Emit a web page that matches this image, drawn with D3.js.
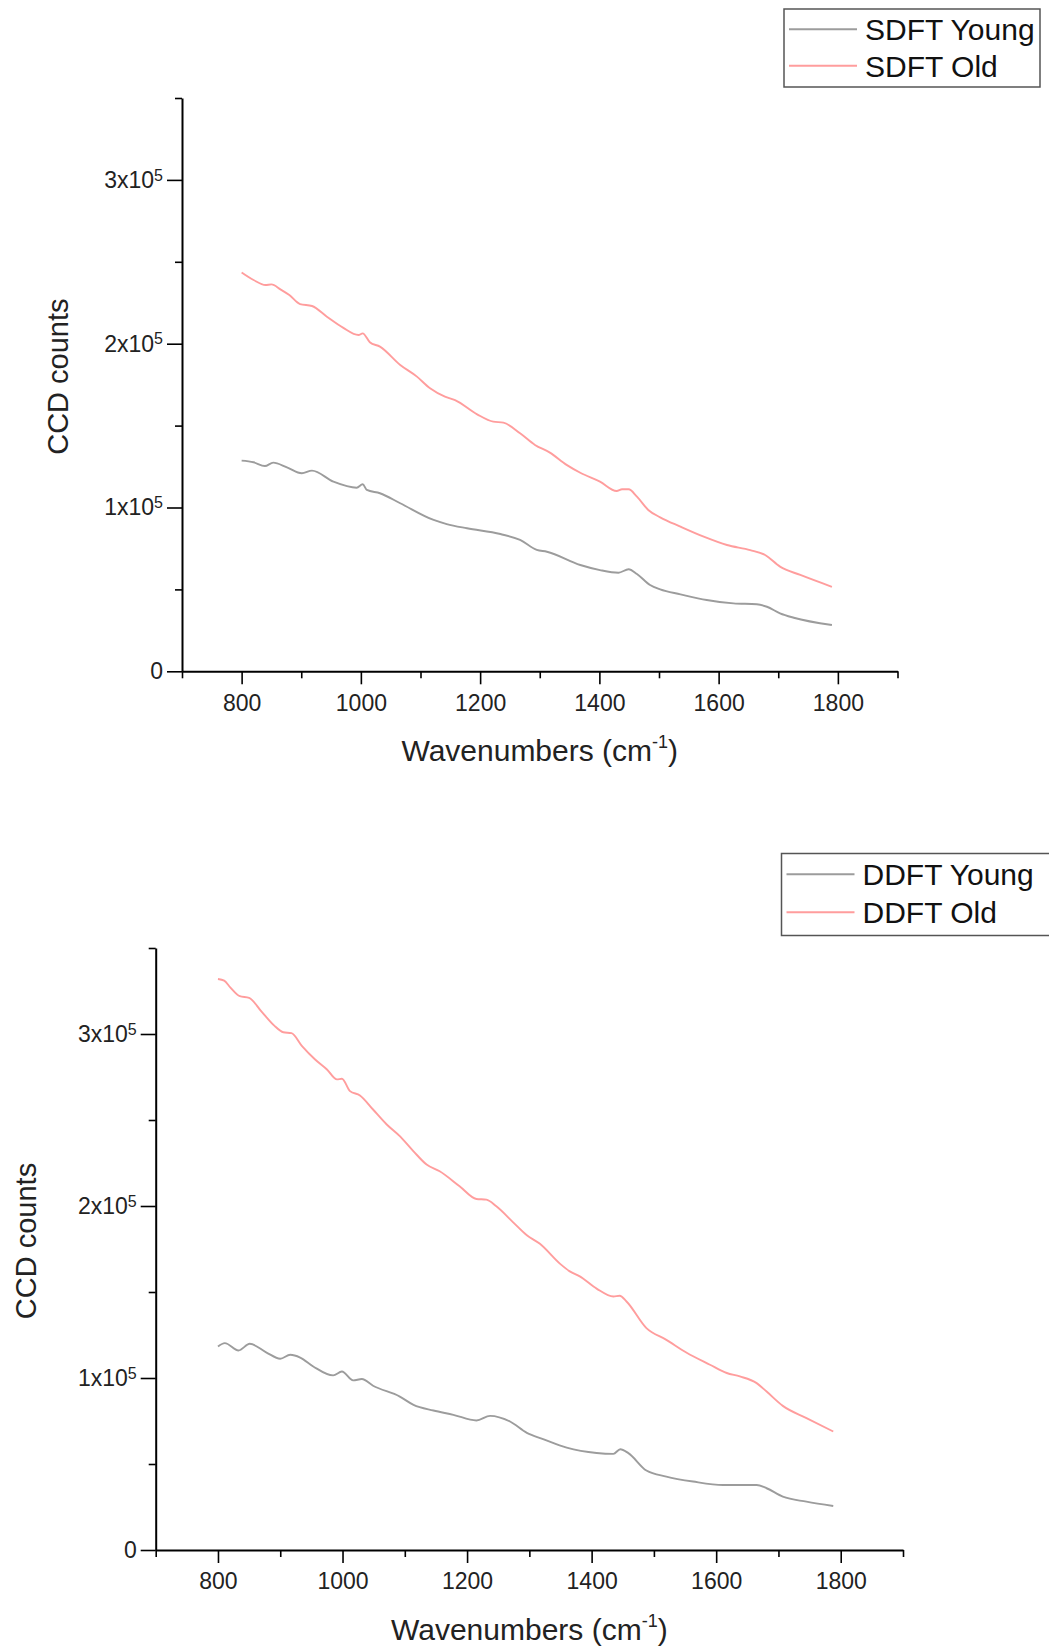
<!DOCTYPE html>
<html>
<head>
<meta charset="utf-8">
<script src="https://cdn.jsdelivr.net/npm/d3@7"></script>
<style>
body { margin: 0; background: #fff; }
svg { display: block; font-family: "Liberation Sans", Arial, sans-serif; }
</style>
</head>
<body>
<svg id="chart" width="1049" height="1649"></svg>
<script>
// spectra: [wavenumber, CCD counts in thousands]
const sdftYoung = [[800,128.6],[820,127.6],[839,125.3],[853,127.4],[876,124.5],[901,120.9],[918,122.5],[954,115.8],[993,112.1],[1003,114.2],[1010,110.7],[1032,108.7],[1066,102.6],[1122,92.4],[1144,89.9],[1178,87.3],[1234,83.8],[1267,80.2],[1295,74.1],[1312,73.0],[1368,64.9],[1401,61.8],[1432,60.2],[1449,62.3],[1463,59.4],[1485,52.7],[1502,50.0],[1536,47.0],[1580,43.5],[1625,41.5],[1664,40.9],[1681,39.4],[1703,35.4],[1726,32.7],[1790,28.3]];
const sdftOld = [[800,243.5],[820,238.9],[840,235.8],[850,236.2],[865,233.2],[880,229.7],[898,224.2],[918,223.0],[943,216.5],[970,209.8],[996,205.3],[1003,206.3],[1015,200.9],[1032,198.2],[1066,187.0],[1094,179.9],[1116,172.8],[1141,167.7],[1158,165.6],[1195,156.9],[1222,152.4],[1239,151.8],[1267,145.3],[1292,138.2],[1317,133.5],[1345,126.0],[1368,121.2],[1401,115.8],[1429,110.1],[1438,111.1],[1449,111.1],[1463,106.6],[1482,98.5],[1502,94.0],[1536,88.3],[1575,82.2],[1614,77.1],[1653,74.0],[1678,71.0],[1703,63.9],[1737,58.8],[1790,51.6]];
const ddftYoung = [[800,118.3],[811,120.3],[833,116.0],[851,119.9],[878,114.8],[900,111.2],[916,113.5],[932,111.9],[953,106.7],[985,101.5],[999,103.8],[1017,98.6],[1031,99.4],[1049,95.5],[1092,89.2],[1114,84.4],[1146,81.1],[1178,78.6],[1215,75.3],[1237,78.0],[1269,74.7],[1296,68.1],[1322,64.5],[1360,59.5],[1408,56.4],[1435,55.9],[1446,58.6],[1459,56.3],[1488,46.2],[1520,42.7],[1563,39.8],[1611,37.8],[1665,37.8],[1681,35.9],[1707,31.0],[1745,28.1],[1788,25.6]];
const ddftOld = [[800,332],[810,331],[820,327],[835,322],[850,321],[870,313],[890,305],[905,301],[918,300.5],[935,293],[956,285.2],[975,279.4],[991,273.6],[999,274.0],[1012,266.8],[1028,264.3],[1049,256.1],[1071,247.4],[1092,240.6],[1114,231.8],[1135,224.1],[1156,220.2],[1188,211.5],[1215,204.1],[1231,203.7],[1247,199.8],[1274,190.5],[1296,183.0],[1317,178.0],[1349,166.5],[1365,162.0],[1381,159.1],[1408,152.0],[1435,147.4],[1445,147.8],[1456,144.5],[1488,129.0],[1520,122.2],[1552,114.8],[1590,107.7],[1617,102.9],[1638,100.9],[1665,97.0],[1681,92.1],[1707,83.8],[1745,76.7],[1788,68.9]];

const xMajor = [800, 1000, 1200, 1400, 1600, 1800];
const xMinor = [700, 900, 1100, 1300, 1500, 1700, 1900];
const yMajor = [0, 100000, 200000, 300000];
const yMinor = [50000, 150000, 250000, 350000];
const yTickLabels = ['0', '1x10', '2x10', '3x10'];

const svg = d3.select('#chart');

function drawPanel(o) {
  const x = d3.scaleLinear().domain([700, 1900]).range([o.left, o.right]);
  const y = d3.scaleLinear().domain([0, 350000]).range([o.bottom, o.top]);
  const g = svg.append('g');

  // minor ticks first, then major axes on top
  g.append('g').attr('transform', `translate(0,${o.bottom})`)
    .call(d3.axisBottom(x).tickValues(xMinor).tickSize(7).tickFormat(''))
    .call(a => a.select('.domain').remove());
  g.append('g').attr('transform', `translate(${o.left},0)`)
    .call(d3.axisLeft(y).tickValues(yMinor).tickSize(7).tickFormat(''))
    .call(a => a.select('.domain').remove());

  const xa = g.append('g').attr('transform', `translate(0,${o.bottom})`)
    .call(d3.axisBottom(x).tickValues(xMajor).tickFormat(d3.format('d'))
      .tickSize(13).tickSizeOuter(0).tickPadding(10));
  xa.selectAll('text').attr('font-size', 23).attr('fill', '#222');

  const ya = g.append('g').attr('transform', `translate(${o.left},0)`)
    .call(d3.axisLeft(y).tickValues(yMajor).tickSize(15).tickSizeOuter(0).tickPadding(4));
  ya.selectAll('text')
    .attr('font-size', 23).attr('fill', '#222')
    .each(function(d, i) {
      const t = d3.select(this).text(yTickLabels[i]);
      if (d !== 0) t.append('tspan').attr('font-size', 16).attr('dy', '-0.45em').text('5');
    });

  g.selectAll('.domain').attr('stroke-width', 2);
  g.selectAll('.tick line').attr('stroke-width', 1.6);

  const line = d3.line()
    .x(d => x(d[0]))
    .y(d => y(d[1] * 1000))
    .curve(d3.curveMonotoneX);

  o.series.forEach(s => {
    g.append('path').datum(s.data)
      .attr('fill', 'none').attr('stroke', s.color).attr('stroke-width', 1.9)
      .attr('d', line);
  });

  // axis titles
  const xt = g.append('text')
    .attr('x', (o.left + o.right) / 2).attr('y', o.bottom + 90)
    .attr('text-anchor', 'middle').attr('font-size', 30).attr('fill', '#222')
    .text('Wavenumbers (cm');
  xt.append('tspan').attr('font-size', 18).attr('dy', -13).text('-1');
  xt.append('tspan').attr('dy', 13).text(')');

  g.append('text')
    .attr('transform', `translate(${o.titleX},${(o.top + o.bottom) / 2 - 8}) rotate(-90)`)
    .attr('text-anchor', 'middle').attr('dy', '0.35em')
    .attr('font-size', 29).attr('fill', '#222')
    .text('CCD counts');

  // legend
  const L = o.legend;
  g.append('rect')
    .attr('x', L.x).attr('y', L.y).attr('width', L.w).attr('height', L.h)
    .attr('fill', '#fff').attr('stroke', '#555').attr('stroke-width', 1.5);
  o.series.forEach((s, i) => {
    const ry = L.rows[i];
    g.append('line')
      .attr('x1', L.x + 5).attr('x2', L.x + 73).attr('y1', ry).attr('y2', ry)
      .attr('stroke', s.color).attr('stroke-width', 1.9);
    g.append('text')
      .attr('x', L.x + 81).attr('y', ry).attr('dy', '0.36em')
      .attr('font-size', 30).attr('fill', '#111')
      .text(s.name);
  });
}

const youngColor = '#9c9c9c';
const oldColor = '#ff9d9d';

drawPanel({
  left: 182, right: 897.5, top: 98, bottom: 671.3, titleX: 58,
  series: [
    { name: 'SDFT Young', data: sdftYoung, color: youngColor },
    { name: 'SDFT Old', data: sdftOld, color: oldColor }
  ],
  legend: { x: 784, y: 9, w: 256, h: 78, rows: [29.3, 65.7] }
});

drawPanel({
  left: 155.7, right: 903, top: 948, bottom: 1550, titleX: 26,
  series: [
    { name: 'DDFT Young', data: ddftYoung, color: youngColor },
    { name: 'DDFT Old', data: ddftOld, color: oldColor }
  ],
  legend: { x: 781.5, y: 853.5, w: 280, h: 82, rows: [874.3, 912.3] }
});
</script>
</body>
</html>
